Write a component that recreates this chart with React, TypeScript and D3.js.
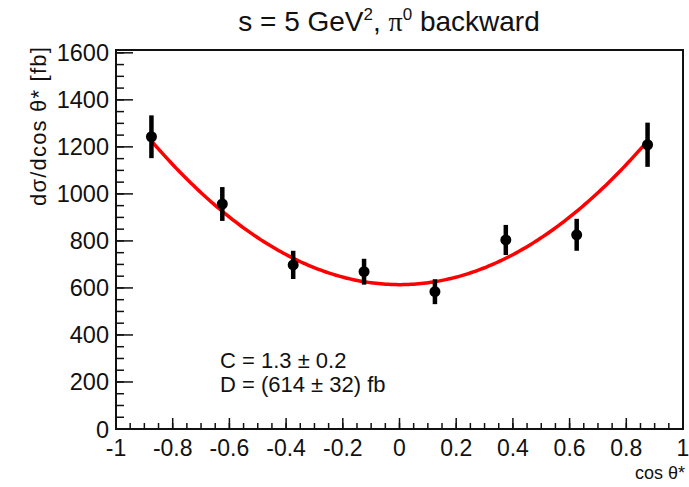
import React from "react";
import * as d3 from "d3";

const cosTheta = [-0.875, -0.625, -0.375, -0.125, 0.125, 0.375, 0.625, 0.875];
const dsigma = [1243, 957, 698, 669, 584, 804, 826, 1209];
const dsigmaErr = [91, 72, 60, 55, 53, 64, 68, 94];
const fitC = 1.3;
const fitD = 614;
const fitRange = [-0.885, 0.877];
const xTicks = [-1, -0.8, -0.6, -0.4, -0.2, 0, 0.2, 0.4, 0.6, 0.8, 1];
const yTicks = [0, 200, 400, 600, 800, 1000, 1200, 1400, 1600];

const W = 689, H = 487;
const L = 116, R = 683, T = 50, B = 429;
const FONT = "'Liberation Sans', Arial, Helvetica, sans-serif";

export default function App() {
  const x = d3.scaleLinear().domain([-1, 1]).range([L, R]);
  const y = d3.scaleLinear().domain([0, 1612]).range([B, T]);

  const xMinor = d3.range(-1, 1.0001, 0.05);
  const yMinor = d3.range(0, 1612, 50);

  const curveX = d3.range(fitRange[0], fitRange[1] + 1e-9, (fitRange[1] - fitRange[0]) / 200);
  const line = d3
    .line<number>()
    .x((c) => x(c))
    .y((c) => y(fitD * (1 + fitC * c * c)))
    .curve(d3.curveLinear);

  const majorLenY = 17, minorLenY = 8;
  const majorLenX = 11, minorLenX = 6;

  return (
    <svg
      width={W}
      height={H}
      style={{ position: "absolute", left: 0, top: 0, background: "#fff" }}
      fontFamily={FONT}
    >
      <rect x={0} y={0} width={W} height={H} fill="#fff" />
      {/* title */}
      <text x={389} y={31} fontSize={28} textAnchor="middle" fill="#111">
        s = 5 GeV
        <tspan fontSize={17} dy={-11}>2</tspan>
        <tspan dy={11}>, </tspan>
        <tspan fontFamily="'Liberation Serif', 'DejaVu Serif', serif">π</tspan>
        <tspan fontSize={17} dy={-11}>0</tspan>
        <tspan dy={11}> backward</tspan>
      </text>

      {/* y ticks */}
      {yMinor.map((v) => (
        <line key={"ym" + v} x1={L} x2={L + minorLenY} y1={y(v)} y2={y(v)} stroke="#111" strokeWidth={1.5} />
      ))}
      {yTicks.map((v) => (
        <line key={"yM" + v} x1={L} x2={L + majorLenY} y1={y(v)} y2={y(v)} stroke="#111" strokeWidth={1.5} />
      ))}
      {yTicks.map((v) => (
        <text key={"yl" + v} x={109} y={y(v) + 8.5} fontSize={23.5} textAnchor="end" fill="#111">
          {v}
        </text>
      ))}

      {/* x ticks */}
      {xMinor.map((v, i) => (
        <line key={"xm" + i} x1={x(v)} x2={x(v)} y1={B} y2={B - minorLenX} stroke="#111" strokeWidth={1.5} />
      ))}
      {xTicks.map((v) => (
        <line key={"xM" + v} x1={x(v)} x2={x(v)} y1={B} y2={B - majorLenX} stroke="#111" strokeWidth={1.5} />
      ))}
      {xTicks.map((v) => (
        <text key={"xl" + v} x={x(v)} y={456} fontSize={23} textAnchor="middle" fill="#111">
          {String(v)}
        </text>
      ))}

      {/* frame */}
      <rect x={L} y={T} width={R - L} height={B - T} fill="none" stroke="#111" strokeWidth={2} />

      {/* axis titles */}
      <text x={685} y={479} fontSize={18} textAnchor="end" fill="#111">
        cos θ*
      </text>
      <text
        transform={`translate(46, 46) rotate(-90)`}
        fontSize={22}
        textAnchor="end"
        fill="#111"
        letterSpacing={1.2}
      >
        dσ/dcos θ* [fb]
      </text>

      {/* fit */}
      <path d={line(curveX) ?? ""} fill="none" stroke="#ff0000" strokeWidth={3.5} />

      {/* data */}
      {cosTheta.map((c, i) => (
        <g key={"p" + i}>
          <line
            x1={x(c)}
            x2={x(c)}
            y1={y(dsigma[i] - dsigmaErr[i])}
            y2={y(dsigma[i] + dsigmaErr[i])}
            stroke="#000"
            strokeWidth={4.5}
          />
          <circle cx={x(c)} cy={y(dsigma[i])} r={5.5} fill="#000" />
        </g>
      ))}

      {/* annotation */}
      <text x={220} y={368} fontSize={22} fill="#111">
        C = 1.3 ± 0.2
      </text>
      <text x={220} y={392} fontSize={22} fill="#111">
        D = (614 ± 32) fb
      </text>
    </svg>
  );
}
